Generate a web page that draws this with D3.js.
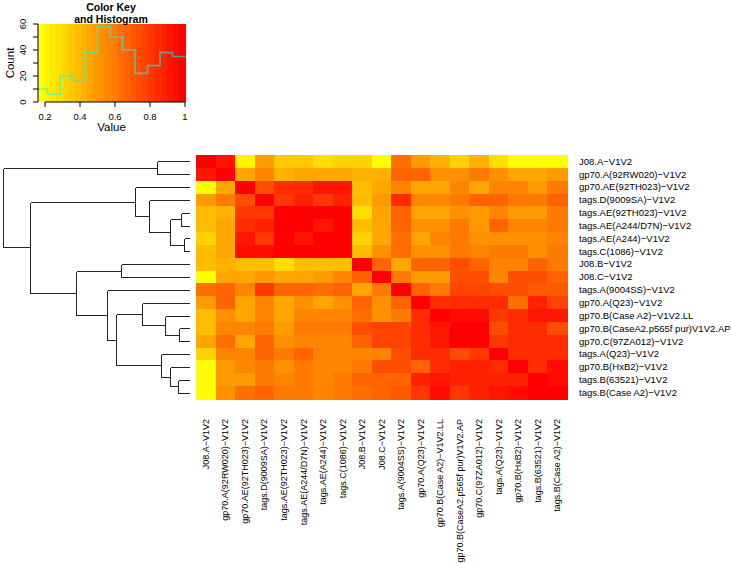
<!DOCTYPE html>
<html>
<head>
<meta charset="utf-8">
<script src="https://cdn.jsdelivr.net/npm/d3@7/dist/d3.min.js"></script>
<style>
  html, body { margin: 0; padding: 0; background: #fff; }
  svg { display: block; font-family: "Liberation Sans", Arial, Helvetica, sans-serif; }
</style>
</head>
<body>
<svg id="chart" width="731" height="563"></svg>
<script>
// ---------------- DATA ----------------
const labels = [
  "J08.A−V1V2",
  "gp70.A(92RW020)−V1V2",
  "gp70.AE(92TH023)−V1V2",
  "tags.D(9009SA)−V1V2",
  "tags.AE(92TH023)−V1V2",
  "tags.AE(A244/D7N)−V1V2",
  "tags.AE(A244)−V1V2",
  "tags.C(1086)−V1V2",
  "J08.B−V1V2",
  "J08.C−V1V2",
  "tags.A(9004SS)−V1V2",
  "gp70.A(Q23)−V1V2",
  "gp70.B(Case A2)−V1V2.LL",
  "gp70.B(CaseA2.p565f pur)V1V2.AP",
  "gp70.C(97ZA012)−V1V2",
  "tags.A(Q23)−V1V2",
  "gp70.B(HxB2)−V1V2",
  "tags.B(63521)−V1V2",
  "tags.B(Case A2)−V1V2"
];

// similarity values, row by row (rows/cols in label order)
const cellValues = [
  [1.00,0.90,0.20,0.50,0.36,0.36,0.28,0.33,0.33,0.19,0.64,0.50,0.43,0.33,0.43,0.27,0.17,0.17,0.17],
  [0.90,0.97,0.45,0.57,0.43,0.47,0.47,0.47,0.43,0.43,0.66,0.66,0.52,0.52,0.58,0.52,0.47,0.47,0.50],
  [0.18,0.45,1.00,0.74,0.84,0.84,0.90,0.90,0.37,0.45,0.55,0.47,0.47,0.55,0.47,0.55,0.55,0.50,0.60],
  [0.50,0.58,0.74,1.00,0.80,0.87,0.80,0.87,0.37,0.50,0.84,0.55,0.55,0.58,0.68,0.68,0.58,0.58,0.66],
  [0.37,0.43,0.80,0.80,1.00,0.97,1.00,0.97,0.27,0.45,0.68,0.47,0.47,0.52,0.50,0.56,0.50,0.50,0.58],
  [0.37,0.47,0.84,0.87,1.00,1.00,0.90,0.97,0.37,0.47,0.68,0.52,0.52,0.58,0.50,0.68,0.56,0.56,0.60],
  [0.33,0.47,0.90,0.80,0.97,0.90,1.00,1.00,0.33,0.47,0.64,0.47,0.55,0.60,0.52,0.52,0.52,0.52,0.56],
  [0.37,0.47,0.93,0.93,1.00,0.97,1.00,1.00,0.37,0.52,0.64,0.52,0.52,0.58,0.55,0.60,0.60,0.52,0.60],
  [0.37,0.43,0.37,0.37,0.27,0.37,0.37,0.37,1.00,0.68,0.47,0.66,0.66,0.74,0.66,0.56,0.56,0.66,0.58],
  [0.17,0.45,0.45,0.50,0.45,0.47,0.50,0.55,0.68,1.00,0.58,0.50,0.50,0.74,0.74,0.56,0.74,0.74,0.68],
  [0.64,0.66,0.55,0.80,0.66,0.68,0.64,0.66,0.47,0.58,1.00,0.68,0.60,0.77,0.77,0.74,0.74,0.71,0.71],
  [0.50,0.66,0.47,0.55,0.47,0.52,0.45,0.52,0.66,0.52,0.68,1.00,0.84,0.84,0.84,0.84,0.64,0.87,0.77],
  [0.40,0.52,0.47,0.55,0.45,0.55,0.55,0.55,0.64,0.52,0.60,0.84,1.00,0.93,0.93,0.80,0.84,0.90,0.90],
  [0.37,0.55,0.55,0.58,0.50,0.60,0.60,0.60,0.74,0.77,0.77,0.84,0.90,1.00,1.00,0.74,0.84,0.84,0.74],
  [0.45,0.64,0.47,0.66,0.52,0.55,0.55,0.55,0.66,0.77,0.77,0.84,0.90,1.00,1.00,0.80,0.84,0.84,0.84],
  [0.30,0.55,0.55,0.66,0.58,0.68,0.55,0.56,0.56,0.56,0.74,0.84,0.84,0.74,0.80,1.00,0.84,0.84,0.84],
  [0.17,0.50,0.55,0.60,0.52,0.60,0.56,0.56,0.58,0.74,0.74,0.66,0.84,0.87,0.87,0.84,1.00,0.84,0.93],
  [0.17,0.50,0.50,0.60,0.55,0.58,0.56,0.58,0.68,0.68,0.68,0.87,0.90,0.87,0.87,0.87,0.87,1.00,0.95],
  [0.17,0.52,0.64,0.68,0.58,0.58,0.56,0.60,0.64,0.66,0.71,0.80,0.93,0.80,0.87,0.90,0.95,0.97,1.00]
];

// row dendrogram: internal nodes {h: height, c: [children]}, leaves = row index
const rowTree = {h:1.0, c:[
  {h:0.176, c:[0,1]},
  {h:0.856, c:[
    {h:0.294, c:[2, {h:0.214, c:[3, {h:0.103, c:[{h:0.044, c:[4,5]}, {h:0.030, c:[6,7]}]}]}]},
    {h:0.610, c:[
      {h:0.365, c:[8,9]},
      {h:0.445, c:[10, {h:0.392, c:[
        {h:0.253, c:[11, {h:0.130, c:[12, {h:0.053, c:[13,14]}]}]},
        {h:0.151, c:[15, {h:0.103, c:[16, {h:0.063, c:[17,18]}]}]}
      ]}]}
    ]}
  ]}
]};

// colour key histogram
const histBreaks = [0.16,0.214,0.286,0.357,0.429,0.5,0.571,0.643,0.714,0.786,0.857,0.929,1.0];
const histCounts = [10,6,20,16,38,58,50,40,22,28,38,35];
const keyXTicks = [0.2,0.4,0.6,0.8,1.0];
const keyXTickLabels = ["0.2","0.4","0.6","0.8","1"];
const keyYTicks = [0,10,20,30,40,50,60];
const keyYLabelled = [0,20,40,60];

// ---------------- COLOURS ----------------
const vMin = 0.16, vMax = 1.0, nBins = 24;
const colorBreaks = d3.range(nBins + 1).map(i => vMin + (vMax - vMin) * i / nBins);
const binColors = d3.range(nBins).map(i => d3.rgb(d3.hsl(60 * (1 - i / (nBins - 1)), 1, 0.5)).formatHex());
const color = d3.scaleThreshold().domain(colorBreaks.slice(1, -1)).range(binColors);

const svg = d3.select("#chart");

// ---------------- HEATMAP ----------------
const hm = {left: 196, right: 567, top: 155, bottom: 399};
const xBand = d3.scaleBand().domain(d3.range(labels.length)).range([hm.left, hm.right]).padding(0);
const yBand = d3.scaleBand().domain(d3.range(labels.length)).range([hm.top, hm.bottom]).padding(0);

const cells = [];
cellValues.forEach((row, r) => row.forEach((v, c) => cells.push({r, c, v})));
svg.append("g").attr("shape-rendering", "crispEdges")
  .selectAll("rect").data(cells).join("rect")
  .attr("x", d => xBand(d.c))
  .attr("y", d => yBand(d.r))
  .attr("width", xBand.bandwidth() + 0.5)
  .attr("height", yBand.bandwidth() + 0.5)
  .attr("fill", d => color(d.v));

// row labels
svg.append("g").selectAll("text").data(labels).join("text")
  .attr("x", hm.right + 12)
  .attr("y", (d, i) => yBand(i) + yBand.bandwidth() / 2)
  .attr("dy", "0.35em")
  .attr("font-size", 9.5)
  .attr("fill", "#000")
  .text(d => d);

// column labels
svg.append("g").selectAll("text").data(labels).join("text")
  .attr("transform", (d, i) => `translate(${xBand(i) + xBand.bandwidth() / 2},${hm.bottom + 20}) rotate(-90)`)
  .attr("text-anchor", "end")
  .attr("dy", "0.35em")
  .attr("font-size", 9)
  .attr("fill", "#000")
  .text(d => d);

// ---------------- DENDROGRAM ----------------
const xDend = d3.scaleLinear().domain([0, 1]).range([189.3, 3.3]);
const root = d3.hierarchy(rowTree, d => (typeof d === "object" ? d.c : null));
root.eachAfter(n => {
  if (!n.children) {
    n.py = yBand(n.data) + yBand.bandwidth() / 2;
    n.px = xDend(0);
  } else {
    n.py = d3.mean(n.children, ch => ch.py);
    n.px = xDend(n.data.h);
  }
});
const segs = [];
root.each(n => {
  if (n.children) {
    const ys = n.children.map(ch => ch.py);
    segs.push([n.px, d3.min(ys), n.px, d3.max(ys)]);
    n.children.forEach(ch => segs.push([n.px, ch.py, ch.px, ch.py]));
  }
});
svg.append("g").attr("stroke", "#222").attr("stroke-width", 1).attr("shape-rendering", "crispEdges")
  .selectAll("line").data(segs).join("line")
  .attr("x1", d => Math.round(d[0]) + 0.5)
  .attr("y1", d => Math.round(d[1]) + 0.5)
  .attr("x2", d => Math.round(d[2]) + 0.5)
  .attr("y2", d => Math.round(d[3]) + 0.5);

// ---------------- COLOUR KEY ----------------
const key = {left: 38, right: 185, top: 24, bottom: 102};
const kx = d3.scaleLinear().domain([vMin, vMax]).range([key.left, key.right]);
const ky = d3.scaleLinear().domain([0, 60]).range([key.bottom, key.top]);

svg.append("g").attr("shape-rendering", "crispEdges")
  .selectAll("rect").data(d3.range(nBins)).join("rect")
  .attr("x", i => kx(colorBreaks[i]))
  .attr("y", key.top)
  .attr("width", i => kx(colorBreaks[i + 1]) - kx(colorBreaks[i]) + 0.5)
  .attr("height", key.bottom - key.top)
  .attr("fill", i => binColors[i]);

// histogram step line
const stepPts = [];
histCounts.forEach((c, i) => {
  stepPts.push([kx(histBreaks[i]), ky(c)]);
  stepPts.push([kx(histBreaks[i + 1]), ky(c)]);
});
svg.append("path")
  .attr("d", d3.line()(stepPts))
  .attr("fill", "none")
  .attr("stroke", "#00ffff")
  .attr("stroke-opacity", 0.55)
  .attr("stroke-width", 1.6);

// y axis
const yAxisG = svg.append("g").attr("transform", `translate(${key.left},0)`);
yAxisG.append("line").attr("x1", 0).attr("x2", 0).attr("y1", ky(0)).attr("y2", ky(60)).attr("stroke", "#000");
yAxisG.selectAll("line.tick").data(keyYTicks).join("line").attr("class", "tick")
  .attr("x1", 0).attr("x2", -5).attr("y1", d => ky(d)).attr("y2", d => ky(d)).attr("stroke", "#000");
yAxisG.selectAll("text").data(keyYLabelled).join("text")
  .attr("transform", d => `translate(-12,${ky(d)}) rotate(-90)`)
  .attr("text-anchor", "middle")
  .attr("font-size", 9.5)
  .text(d => d);

// x axis
const xAxisG = svg.append("g").attr("transform", `translate(0,${key.bottom})`);
xAxisG.append("line").attr("x1", kx(0.2)).attr("x2", kx(1.0)).attr("y1", 0).attr("y2", 0).attr("stroke", "#000");
xAxisG.selectAll("line.tick").data(keyXTicks).join("line").attr("class", "tick")
  .attr("x1", d => kx(d)).attr("x2", d => kx(d)).attr("y1", 0).attr("y2", 5).attr("stroke", "#000");
xAxisG.selectAll("text").data(keyXTicks).join("text")
  .attr("x", d => kx(d)).attr("y", 18)
  .attr("text-anchor", "middle")
  .attr("font-size", 9.5)
  .text((d, i) => keyXTickLabels[i]);

// axis titles
svg.append("text").attr("x", (key.left + key.right) / 2).attr("y", 131)
  .attr("text-anchor", "middle").attr("font-size", 11.5).text("Value");
svg.append("text").attr("transform", `translate(14,${(key.top + key.bottom) / 2}) rotate(-90)`)
  .attr("text-anchor", "middle").attr("font-size", 11.5).text("Count");

// title
svg.append("text").attr("x", 111).attr("y", 11).attr("text-anchor", "middle")
  .attr("font-size", 10.5).attr("font-weight", "bold").text("Color Key");
svg.append("text").attr("x", 111).attr("y", 23).attr("text-anchor", "middle")
  .attr("font-size", 10.5).attr("font-weight", "bold").text("and Histogram");
</script>
</body>
</html>
